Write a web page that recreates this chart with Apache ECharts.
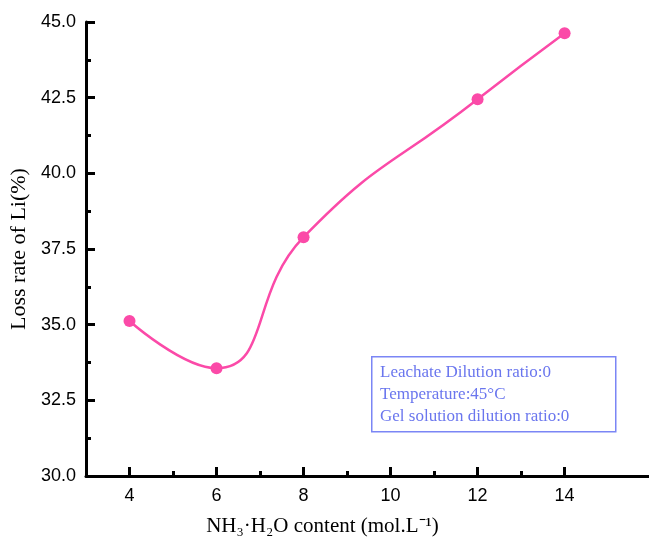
<!DOCTYPE html>
<html>
<head>
<meta charset="utf-8">
<script src="https://cdn.jsdelivr.net/npm/echarts@6/dist/echarts.min.js"></script>
<style>html,body{margin:0;padding:0;background:#fff}#c{width:649px;height:542px}</style>
</head>
<body>
<div id="c"></div>
<script>
const xValues = [4, 6, 8, 12, 14];
const lossRate = [35.12, 33.56, 37.89, 42.45, 44.63];
const xMajorTicks = [4, 6, 8, 10, 12, 14];
const xMinorTicks = [5, 7, 9, 11, 13];
const noteLines = ['Leachate Dilution ratio:0', 'Temperature:45\u00B0C', 'Gel solution dilution ratio:0'];

const chart = echarts.init(document.getElementById('c'));
const serif = '"Liberation Serif", "Times New Roman", serif';
const sans = '"Liberation Sans", Arial, sans-serif';
chart.setOption({
  animation: false,
  grid: { left: 86, top: 22, right: 0, bottom: 60, containLabel: false },
  xAxis: [{
    type: 'value', min: 3, max: 15.94,
    name: 'NH\u2083\u00B7H\u2082O content (mol.L\u207B\u00B9)',
    nameLocation: 'middle', nameGap: 40,
    nameTextStyle: { fontFamily: serif, fontSize: 21, color: '#000', padding: [0, 90, 0, 0] },
    axisLine: { lineStyle: { color: '#000', width: 3 } },
    axisTick: { inside: true, length: 9, lineStyle: { width: 3, color: '#000' }, customValues: xMajorTicks },
    axisLabel: { customValues: xMajorTicks, fontFamily: sans, fontSize: 18, color: '#000', margin: 11 },
    splitLine: { show: false }
  }, {
    type: 'value', min: 3, max: 15.94, position: 'bottom',
    axisLine: { show: false },
    axisTick: { inside: true, length: 5, lineStyle: { width: 3, color: '#000' }, customValues: xMinorTicks },
    axisLabel: { show: false },
    splitLine: { show: false }
  }],
  yAxis: {
    type: 'value', min: 30, max: 45, interval: 2.5,
    name: 'Loss rate of Li(%)', nameLocation: 'middle', nameGap: 48,
    nameTextStyle: { fontFamily: serif, fontSize: 22, color: '#000' },
    axisLine: { show: true, lineStyle: { color: '#000', width: 3 } },
    axisTick: { inside: true, length: 9, lineStyle: { width: 3, color: '#000' } },
    minorTick: { show: true, splitNumber: 2, length: 5, lineStyle: { width: 3, color: '#000' } },
    axisLabel: { formatter: v => v.toFixed(1), fontFamily: sans, fontSize: 18, color: '#000', margin: 10 },
    splitLine: { show: false }
  },
  series: [{
    type: 'line', xAxisIndex: 0,
    data: xValues.map((x, i) => [x, lossRate[i]]),
    smooth: 0.5,
    symbol: 'circle', symbolSize: 12,
    lineStyle: { color: '#fb4aa8', width: 2.5 },
    itemStyle: { color: '#fb4aa8' }
  }],
  graphic: [{
    type: 'rect', left: 371, top: 356,
    shape: { width: 244, height: 75 },
    style: { fill: '#fff', stroke: '#7b86f5', lineWidth: 1.5 }
  }, {
    type: 'text', left: 380, top: 362,
    style: { text: noteLines.join('\n'), fill: '#6a76ee', font: '17px ' + serif, lineHeight: 22 }
  }]
});
</script>
</body>
</html>
